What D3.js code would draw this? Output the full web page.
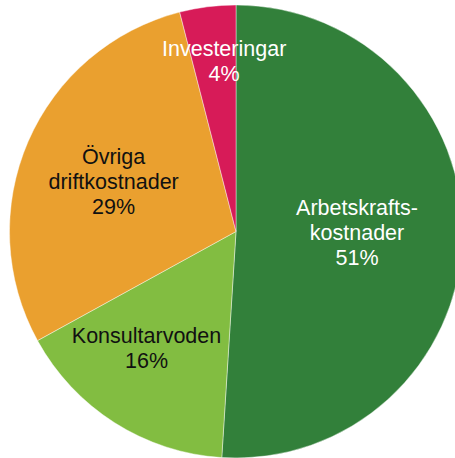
<!DOCTYPE html>
<html>
<head>
<meta charset="utf-8">
<script src="https://cdn.jsdelivr.net/npm/d3@7"></script>
<style>
  html, body { margin: 0; padding: 0; background: #ffffff; overflow: hidden; }
</style>
</head>
<body>
<div id="chart"></div>
<script>
// data
const kategorier = ["Arbetskrafts-\nkostnader", "Konsultarvoden", "Övriga\ndriftkostnader", "Investeringar"];
const andelar = [51, 16, 29, 4];
const farger = ["#32803a", "#82bd41", "#eaa02f", "#d71b58"];
const textfarger = ["#ffffff", "#111111", "#111111", "#ffffff"];

// layout
const bredd = 455, hojd = 458;
const cx = 236, cy = 231.5, radie = 226.5;
const etikettRadie = [121, 147, 132, 170];
const etikettVrid = [-1.2, 5.1, -1.4, 3.2]; // grader, justering från mittvinkeln
const radAvstand = 25;

const svg = d3.select("#chart").append("svg")
    .attr("width", bredd)
    .attr("height", hojd);

const pie = d3.pie().sort(null).value(d => d);
const bitar = pie(andelar);

const arc = d3.arc().innerRadius(0).outerRadius(radie);

const g = svg.append("g").attr("transform", `translate(${cx},${cy})`);

g.selectAll("path")
    .data(bitar)
    .join("path")
    .attr("d", arc)
    .attr("fill", (d, i) => farger[i])
    .attr("stroke", "#ffffff")
    .attr("stroke-opacity", 0.6)
    .attr("stroke-width", 0.7);

// etiketter
bitar.forEach((d, i) => {
    const vinkel = (d.startAngle + d.endAngle) / 2 + etikettVrid[i] * Math.PI / 180;
    const x = Math.sin(vinkel) * etikettRadie[i];
    const y = -Math.cos(vinkel) * etikettRadie[i];
    const rader = kategorier[i].split("\n").concat([andelar[i] + "%"]);
    const text = g.append("text")
        .attr("x", x)
        .attr("y", y - (rader.length - 1) * radAvstand / 2)
        .attr("fill", textfarger[i])
        .attr("font-family", "Liberation Sans, Arial, sans-serif")
        .attr("font-size", 21.5)
        .attr("text-anchor", "middle")
        .attr("dominant-baseline", "central");
    rader.forEach((r, j) => {
        text.append("tspan")
            .attr("x", x)
            .attr("dy", j === 0 ? 0 : radAvstand)
            .text(r);
    });
});
</script>
</body>
</html>
